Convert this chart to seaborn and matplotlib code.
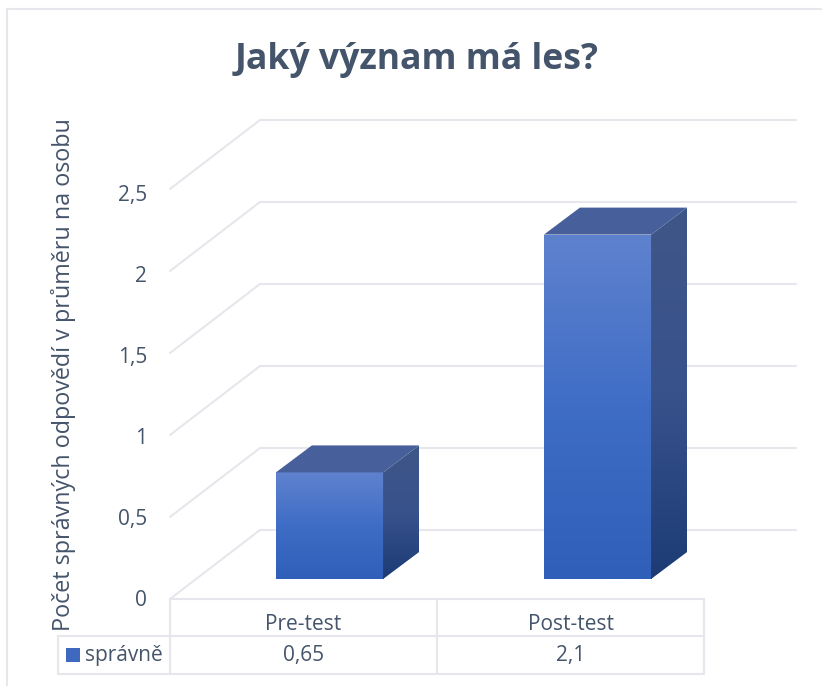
import numpy as np
import pandas as pd
import matplotlib
matplotlib.use('Agg')
import matplotlib.pyplot as plt
from matplotlib.colors import LinearSegmentedColormap
from matplotlib.patches import Polygon, Rectangle
import seaborn as sns

kategorie = ['Pre-test', 'Post-test']
hodnoty = [0.65, 2.1]
tabulka = ['0,65', '2,1']
serie = 'správně'
tiky = [0, 0.5, 1, 1.5, 2, 2.5]
tiky_text = ['0', '0,5', '1', '1,5', '2', '2,5']
steny = [0, 0.5, 1, 1.5, 2, 2.5]

SIRKA, VYSKA = 822, 686
TEXT = '#44546A'
LINKA = '#E6E7EC'

sns.set_theme(style='white')
plt.rcParams['font.family'] = ['Open Sans', 'DejaVu Sans']

df = pd.DataFrame({'test': kategorie, 'hodnota': hodnoty})

fig = plt.figure(figsize=(SIRKA / 100, VYSKA / 100), dpi=100, facecolor='white')
ax = fig.add_axes([0, 0, 1, 1])
sns.barplot(data=df, x='test', y='hodnota', width=0.4, color='#3A66BE', ax=ax, saturation=1, zorder=3)

# 1 kategorie = 268 px, 1 jednotka = 164 px, kategorie 0 je na x=329.5, nula sloupce na y=579
SX, SY = 268, 164
ax.set_xlim(-329.5 / SX, (SIRKA - 329.5) / SX)
ax.set_ylim((579 - VYSKA) / SY, 579 / SY)
ax.axis('off')

def dx(px):
    return (px - 329.5) / SX

def dy(py):
    return (579 - py) / SY

# mrizka: predni hrana + zadni stena
for v in steny:
    y0 = v + dy(599)
    y1 = v + dy(530)
    ax.plot([dx(170), dx(260), dx(796)], [y0, y1, y1], color=LINKA, lw=1.5, zorder=1,
            solid_joinstyle='miter')

# podlaha a tabulka
def cara(x1, y1, x2, y2):
    ax.plot([dx(x1), dx(x2)], [dy(y1), dy(y2)], color=LINKA, lw=1.5, zorder=1)

cara(170, 599, 704, 599)
cara(58, 636, 704, 636)
cara(58, 674, 704, 674)
cara(58, 636, 58, 674)
cara(170, 599, 170, 674)
cara(437, 599, 437, 674)
cara(704, 599, 704, 674)

# ramecek, jen nahore a vlevo
cara(7, 9, 822, 9)
cara(7, 9, 7, 686)

predni = LinearSegmentedColormap.from_list('predni', ['#5F82CE', '#3F6DC6', '#2F5FB8'])
bocni = LinearSegmentedColormap.from_list('bocni', ['#3F5687', '#38528C', '#1C3B75'])
hloubka_x = 36 / SX
hloubka_y = 27 / SY

for bar in ax.patches[:len(hodnoty)]:
    x0 = bar.get_x()
    x1 = x0 + bar.get_width()
    h = bar.get_height()
    grad = np.linspace(0, 1, 256).reshape(-1, 1)
    im = ax.imshow(grad, cmap=predni, extent=(x0, x1, 0, h), aspect='auto', zorder=4, origin='upper')
    im.set_clip_path(Rectangle((x0, 0), x1 - x0, h, transform=ax.transData))
    bok = Polygon([(x1, 0), (x1 + hloubka_x, hloubka_y), (x1 + hloubka_x, h + hloubka_y), (x1, h)],
                  transform=ax.transData, facecolor='none', edgecolor='none')
    ax.add_patch(bok)
    im2 = ax.imshow(grad, cmap=bocni, extent=(x1, x1 + hloubka_x, 0, h + hloubka_y), aspect='auto', zorder=4, origin='upper')
    im2.set_clip_path(bok)
    ax.add_patch(Polygon([(x0, h), (x1, h), (x1 + hloubka_x, h + hloubka_y), (x0 + hloubka_x, h + hloubka_y)],
                         facecolor='#47609B', edgecolor='none', zorder=4))

ax.set_xlim(-329.5 / SX, (SIRKA - 329.5) / SX)
ax.set_ylim((579 - VYSKA) / SY, 579 / SY)

# texty
ax.text(dx(417), dy(60), 'Jaký význam má les?', fontsize=25.7, fontweight='bold', color=TEXT,
        ha='center', va='center')
for t, s in zip(tiky, tiky_text):
    ax.text(dx(147), t * 0.99 + dy(601), s, fontsize=15, color=TEXT, ha='right', va='center')
ax.text(dx(64), dy(375), 'Počet správných odpovědí v průměru na osobu', fontsize=16.8, color=TEXT,
        rotation=90, ha='center', va='center')
for i, k in enumerate(kategorie):
    ax.text(dx(303.5 + i * 267), dy(624), k, fontsize=15, color=TEXT, ha='center', va='center')
    ax.text(dx(303.5 + i * 267), dy(656), tabulka[i], fontsize=15, color=TEXT, ha='center', va='center')
ax.text(dx(85), dy(655), serie, fontsize=15, color=TEXT, ha='left', va='center')
ax.add_patch(Rectangle((dx(66), dy(662)), 14 / SX, 14 / SY, facecolor='#3F68BF', edgecolor='none', zorder=4))

fig.savefig('out.png', dpi=100)
